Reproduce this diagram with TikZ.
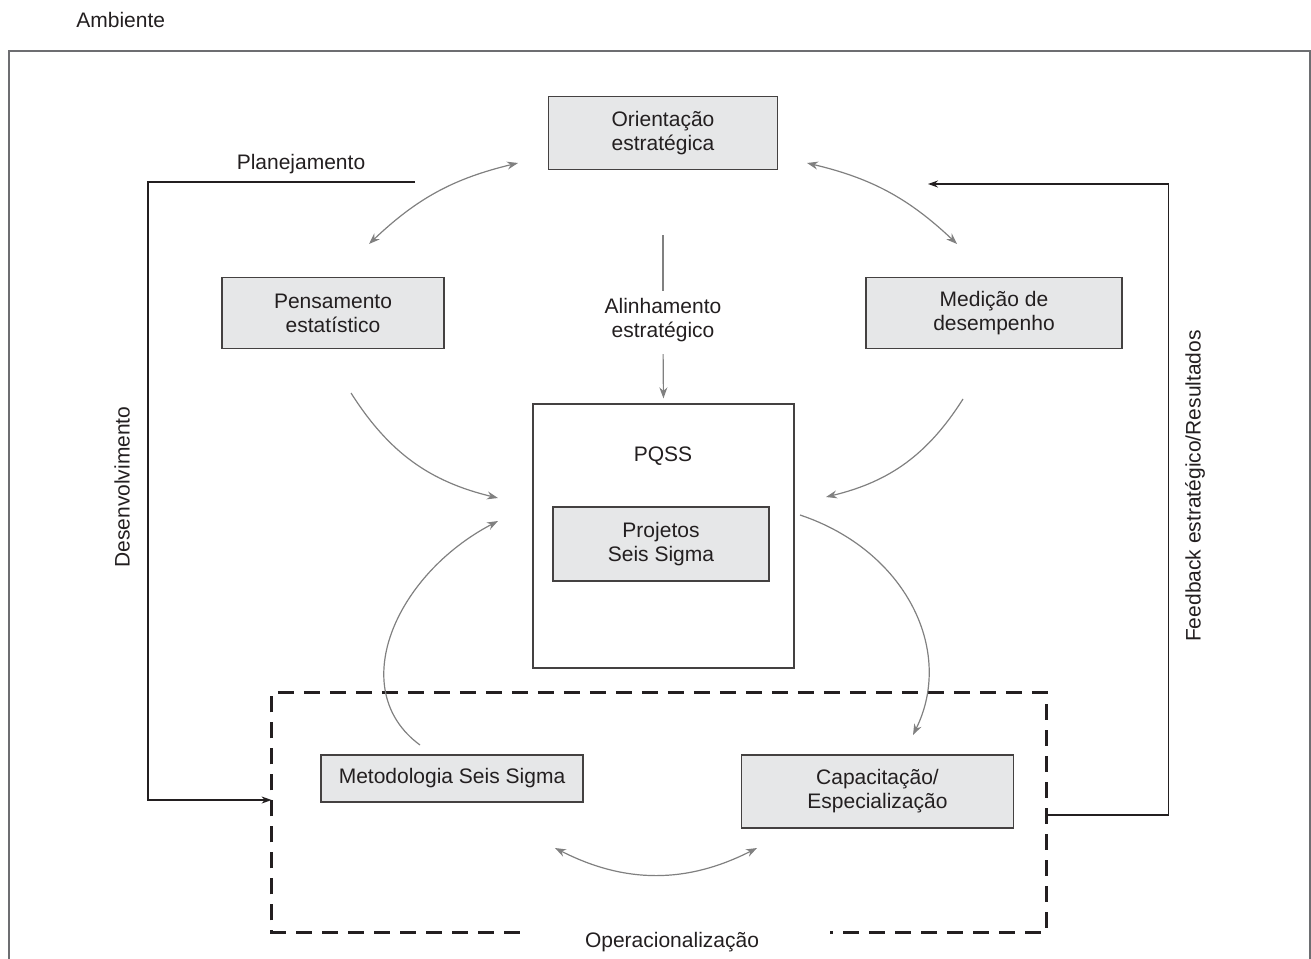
\documentclass[tikz,border=0pt]{standalone}
\usepackage{fontspec}
\setmainfont{Liberation Sans}
\usetikzlibrary{arrows.meta}

\definecolor{boxfill}{HTML}{E6E7E8}
\definecolor{inkcol}{HTML}{231F20}
\definecolor{flowgray}{HTML}{808080}
\definecolor{framegray}{HTML}{6D6E71}

\begin{document}
\begin{tikzpicture}[x=0.5pt,y=-0.5pt,
  every node/.style={font=\fontsize{10.5}{12}\selectfont, text=inkcol, align=center, inner sep=0pt},
  graybox/.style={draw=inkcol!85, fill=boxfill, line width=0.65pt},
  flow/.style={draw=flowgray, line width=0.6pt},
  flowtip/.style={-{Stealth[length=5.5pt,width=4pt]}},
  flowtips/.style={{Stealth[length=5.5pt,width=4pt]}-{Stealth[length=5.5pt,width=4pt]}},
  link/.style={draw=inkcol, line width=0.65pt, -{Stealth[length=5pt,width=3.5pt]}},
  opframe/.style={draw=inkcol, line width=1.4pt, dash pattern=on 8pt off 5pt}]
  \useasboundingbox (0,0) rectangle (1311,958);

  % ambiente
  \node[anchor=west] (amb) at (76,20) {Ambiente};
  \draw[framegray, line width=0.75pt] (9,970) -- (9,51) -- (1310,51) -- (1310,970);

  % caixas
  \node[graybox, minimum width=114.5pt, minimum height=36.5pt] (orient) at (663,133) {Orientação\\estratégica};
  \node[graybox, minimum width=111pt, minimum height=35.5pt] (pens) at (333,313) {Pensamento\\estatístico};
  \node[graybox, minimum width=128pt, minimum height=35.5pt] (medic) at (994,313) {Medição de\\desempenho};
  \node (alin) at (663,320) {Alinhamento\\estratégico};
  \node[draw=inkcol!85, line width=0.65pt, minimum width=130.5pt, minimum height=132pt] (pqss) at (663.5,536) {};
  \node (pqsslbl) at (663,456) {PQSS};
  \node[graybox, minimum width=108pt, minimum height=37pt] (proj) at (661,544) {Projetos\\Seis Sigma};
  \node[minimum width=387pt, minimum height=119.5pt] (oper) at (659,812.5) {};
  \node[graybox, minimum width=131pt, minimum height=23.5pt] (metod) at (452,778.5) {Metodologia Seis Sigma};
  \node[graybox, minimum width=136pt, minimum height=36.5pt] (capac) at (877.5,791.5) {Capacitação/\\Especialização};

  % rotulos
  \node (plan) at (301,164) {Planejamento};
  \node[rotate=90] (desenv) at (122,487) {Desenvolvimento};
  \node[rotate=90] (feedb) at (1195,486) {Feedback estratégico/Resultados};
  \node (operlbl) at (672,942) {Operacionalização};

  % operacionalizacao (tracejado)
  \draw[opframe] ([xshift=124pt]oper.south west) -- (oper.south west) -- (oper.north west)
    -- (oper.north east) -- (oper.south east) -- ++(-216,0);

  % pontas livres
  \coordinate (ori-w) at (518,163);
  \coordinate (ori-e) at (807,163);
  \coordinate (pens-n) at (369,244);
  \coordinate (medic-n) at (957,244);
  \coordinate (pens-s) at (351,393);
  \coordinate (medic-s) at (963,399);
  \coordinate (pq-w1) at (498,498);
  \coordinate (pq-e1) at (826,497);
  \coordinate (pq-w2) at (498,521);
  \coordinate (metod-n) at (420,745);
  \coordinate (pq-e2) at (800,515);
  \coordinate (capac-n) at (913,735);
  \coordinate (metod-e) at (555,848);
  \coordinate (capac-w) at (757,848);
  \coordinate (plan-e) at (415,182);
  \coordinate (fb-e) at (928,184);

  % fluxos
  \draw[flow, flowtips] (pens-n) to[bend left=15] (ori-w);
  \draw[flow, flowtips] (ori-e) to[bend left=15] (medic-n);
  \draw[flow, shorten <=32.5pt, shorten >=3.5pt] (orient.south) -- (alin.north);
  \draw[flow, flowtip, shorten <=6pt, shorten >=2.5pt] (alin.south) -- (pqss.north);
  \draw[flow, flowtip] (pens-s) to[bend right=22] (pq-w1);
  \draw[flow, flowtip] (medic-s) to[bend left=22] (pq-e1);
  \draw[flow, flowtip] (metod-n) .. controls (345,690) and (395,575) .. (pq-w2);
  \draw[flow, flowtip] (pq-e2) .. controls (905,550) and (955,650) .. (capac-n);
  \draw[flow, flowtips] (metod-e) to[bend right=27] (capac-w);

  % planejamento e feedback
  \draw[link] (plan-e) -- ++(-267,0) |- ([yshift=6.25pt]oper.west);
  \draw[link] ([yshift=-1.25pt]oper.east) -- ++(122,0) |- (fb-e);
\end{tikzpicture}
\end{document}
